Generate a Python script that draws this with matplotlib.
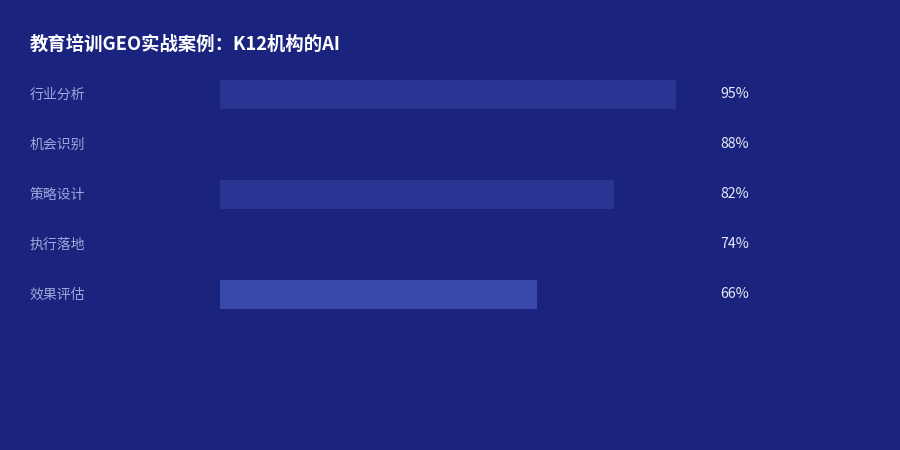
import matplotlib.pyplot as plt
import matplotlib.transforms as mtransforms

plt.rcParams['font.family'] = ['Noto Sans CJK SC', 'DejaVu Sans']

BG = "#1a237e"

categories = ["行业分析", "机会识别", "策略设计", "执行落地", "效果评估"]
values = [95, 88, 82, 74, 66]
bar_colors = ["#283593", "#1a237e", "#283593", "#1a237e", "#3949ab"]
title = "教育培训GEO实战案例：K12机构的AI"

fig = plt.figure(figsize=(9, 4.5), dpi=100, facecolor=BG)
# axes spans the bar area: x 220..700 px, rows centred at 94.5 .. 294.5 px
ax = fig.add_axes([220 / 900, 1 - 319.5 / 450, 480 / 900, 250 / 450])
ax.set_facecolor(BG)

ypos = list(range(len(categories)))
ax.barh(ypos, values, height=0.58, color=bar_colors, linewidth=0)
ax.set_xlim(0, 100)
ax.set_ylim(len(categories) - 0.5, -0.5)
ax.axis("off")

lab_tr = mtransforms.blended_transform_factory(fig.transFigure, ax.transData)
for y, cat, v in zip(ypos, categories, values):
    ax.text(30 / 900, y, cat, transform=lab_tr, ha="left", va="center",
            fontsize=10, color="#9fa8da")
    ax.text(720 / 900, y, f"{v}%", transform=lab_tr, ha="left", va="center",
            fontsize=10.2, color="#e8eaf6")

fig.text(30 / 900, 1 - 44 / 450, title, ha="left", va="center",
         fontsize=13.2, fontweight="bold", color="white")

fig.savefig("out.png", dpi=100, facecolor=BG)
